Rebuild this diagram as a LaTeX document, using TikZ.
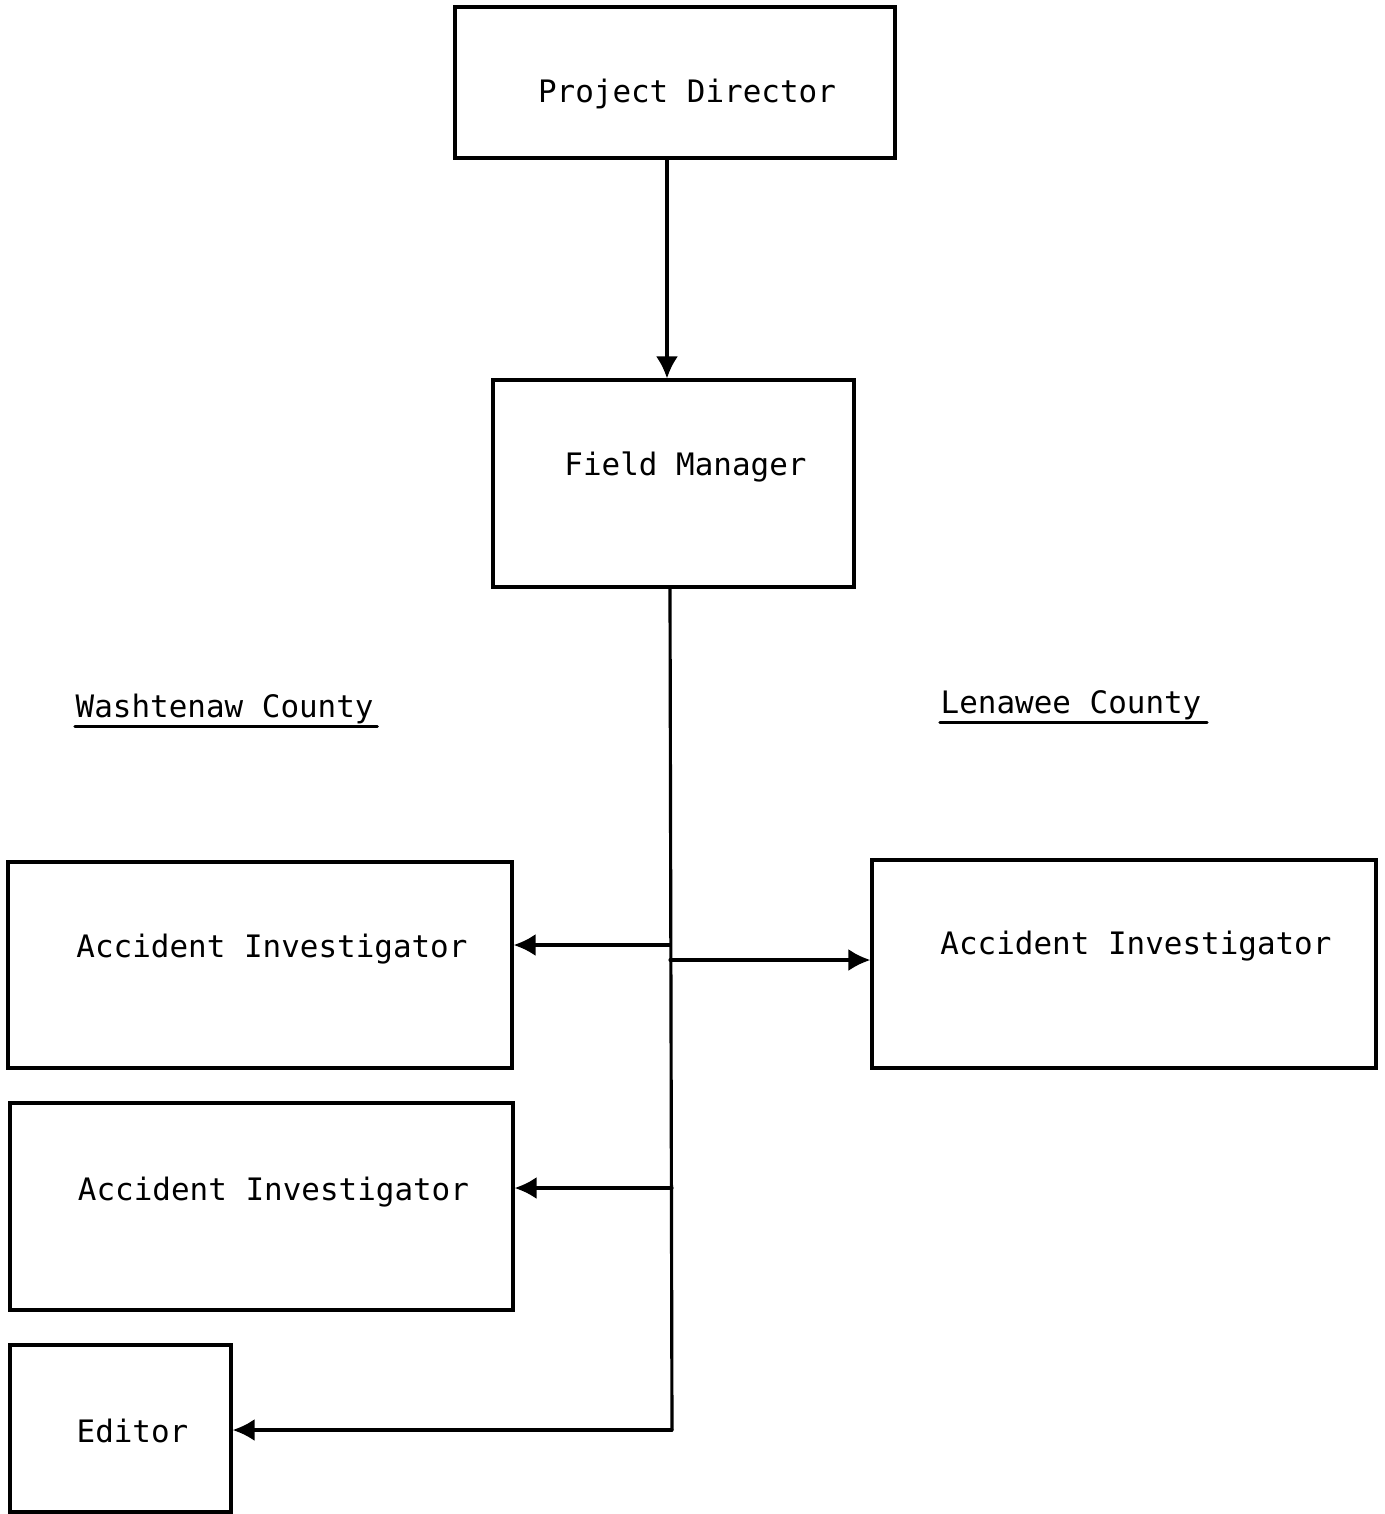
\documentclass[tikz,border=0pt]{standalone}
\usepackage{fontspec}
\setmonofont{DejaVu Sans Mono}
\usetikzlibrary{arrows.meta}

\begin{document}
\begin{tikzpicture}[>={Latex[length=2.2mm,width=2.2mm]},line cap=round,
    box/.style={draw,line width=0.9pt,rectangle,inner sep=0pt,
        font=\fontsize{8.8}{10}\selectfont\ttfamily,
        execute at begin node=\hspace*{0.24cm}},
    county/.style={font=\fontsize{8.8}{10}\selectfont\ttfamily,inner sep=0pt},
    link/.style={->,line width=0.9pt}]
    % page frame
    \useasboundingbox (0,0) rectangle (13.85,-15.14);

    % the boxes
    \node[box,minimum width=4.40cm,minimum height=1.51cm,
        text height=0.44cm,text depth=0.05cm] (pd) at (6.75,-0.825) {Project Director};
    \node[box,minimum width=3.61cm,minimum height=2.07cm,
        text height=0.2cm,text depth=0.37cm] (fm) at (6.735,-4.835) {Field Manager};
    \node[box,minimum width=5.04cm,minimum height=2.06cm,
        text height=0.2cm,text depth=0.36cm] (wai1) at (2.60,-9.65) {Accident Investigator};
    \node[box,minimum width=5.03cm,minimum height=2.07cm,
        text height=0.2cm,text depth=0.33cm] (wai2) at (2.615,-12.065) {Accident Investigator};
    \node[box,minimum width=2.21cm,minimum height=1.67cm,
        text height=0.32cm,text depth=0.05cm] (ed) at (1.205,-14.285) {Editor};
    \node[box,minimum width=5.04cm,minimum height=2.08cm,
        text height=0.2cm,text depth=0.40cm] (lai) at (11.24,-9.64) {Accident Investigator};

    % the county headings, underlined
    \node[county,anchor=base west] (wc) at (0.75,-7.17) {Washtenaw County};
    \node[county,anchor=base west] (lc) at (9.40,-7.13) {Lenawee County};
    \draw[line width=0.9pt] ([yshift=-0.02cm]wc.south west) -- ([yshift=-0.02cm,xshift=0.03cm]wc.south east);
    \draw[line width=0.9pt] ([yshift=-0.02cm]lc.south west) -- ([yshift=-0.02cm,xshift=0.05cm]lc.south east);

    % points on the trunk line
    \coordinate (j1) at (6.70,-9.45);
    \coordinate (j2) at (6.70,-9.60);
    \coordinate (j3) at (6.72,-11.88);
    \coordinate (j4) at (6.72,-14.30);

    % the connectors
    \draw[link] (pd.south -| 6.67,0) -- (fm.north -| 6.67,0);
    \draw[line width=0.9pt] (fm.south -| 6.70,0) -- (j4);
    \draw[link] (j1) -- (j1 -| wai1.east);
    \draw[link] (j2) -- (j2 -| lai.west);
    \draw[link] (j3) -- (j3 -| wai2.east);
    \draw[link] (j4) -- (j4 -| ed.east);
\end{tikzpicture}
\end{document}
